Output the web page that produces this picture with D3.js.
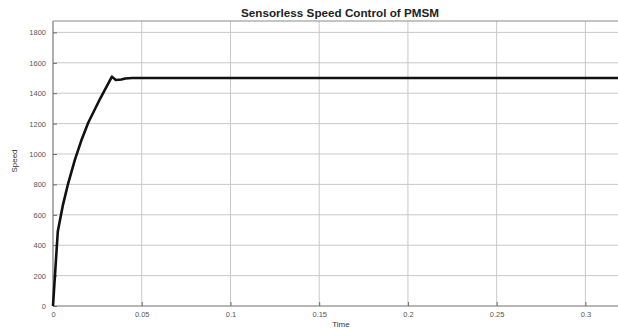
<!DOCTYPE html>
<html>
<head>
<meta charset="utf-8">
<script src="https://cdn.jsdelivr.net/npm/d3@7"></script>
<style>
  html, body { margin: 0; padding: 0; background: #fff; }
  svg { display: block; }
</style>
</head>
<body>
<script>
// speed response
const time = [0, 0.0027, 0.0055, 0.0086, 0.0124, 0.0160, 0.0199, 0.0266, 0.0332, 0.0354, 0.0385, 0.0407, 0.0447, 0.32];
const speed = [0, 490, 660, 809, 965, 1090, 1207, 1365, 1509, 1487, 1490, 1497, 1500, 1500];

const xTicks = [0, 0.05, 0.1, 0.15, 0.2, 0.25, 0.3];
const xTickLabels = ["0", "0.05", "0.1", "0.15", "0.2", "0.25", "0.3"];
const yTicks = [0, 200, 400, 600, 800, 1000, 1200, 1400, 1600, 1800];

const width = 618, height = 329;
const margin = { left: 53, top: 21, right: -2, bottom: 23 };

const svg = d3.select("body").append("svg")
  .attr("width", width)
  .attr("height", height);

const x = d3.scaleLinear().domain([0, 0.3195]).range([margin.left, width - margin.right]);
const y = d3.scaleLinear().domain([0, 1875]).range([height - margin.bottom, margin.top]);

// grid
svg.append("g").selectAll("line").data(xTicks).enter().append("line")
  .attr("x1", d => x(d)).attr("x2", d => x(d))
  .attr("y1", y(0)).attr("y2", margin.top)
  .attr("stroke", "#c8c8c8").attr("stroke-width", 1);

svg.append("g").selectAll("line").data(yTicks).enter().append("line")
  .attr("x1", margin.left).attr("x2", width)
  .attr("y1", d => y(d)).attr("y2", d => y(d))
  .attr("stroke", "#c8c8c8").attr("stroke-width", 1);

// box
svg.append("line").attr("x1", margin.left).attr("x2", width)
  .attr("y1", margin.top).attr("y2", margin.top)
  .attr("stroke", "#8a8a8a").attr("stroke-width", 1.2);
svg.append("line").attr("x1", margin.left).attr("x2", width)
  .attr("y1", y(0)).attr("y2", y(0))
  .attr("stroke", "#8a8a8a").attr("stroke-width", 1.2);
svg.append("line").attr("x1", margin.left).attr("x2", margin.left)
  .attr("y1", margin.top).attr("y2", y(0))
  .attr("stroke", "#8a8a8a").attr("stroke-width", 1.2);

// axes
const xAxis = d3.axisBottom(x).tickValues(xTicks)
  .tickFormat((d, i) => xTickLabels[i]).tickSizeInner(-4).tickSizeOuter(0).tickPadding(6);
const gx = svg.append("g").attr("transform", `translate(0,${y(0)})`).call(xAxis);
gx.select(".domain").remove();

const yAxis = d3.axisLeft(y).tickValues(yTicks).tickFormat(d3.format("d"))
  .tickSizeInner(-4).tickSizeOuter(0).tickPadding(7);
const gy = svg.append("g").attr("transform", `translate(${margin.left},0)`).call(yAxis);
gy.select(".domain").remove();

svg.selectAll(".tick line").attr("stroke", "#6a6a6a");
svg.selectAll(".tick text")
  .attr("fill", "#555")
  .attr("font-family", "Liberation Sans, Arial, sans-serif")
  .attr("font-size", "7.5px");

// data
const line = d3.line().x((d, i) => x(time[i])).y(d => y(d));
svg.append("path")
  .datum(speed)
  .attr("d", line)
  .attr("fill", "none")
  .attr("stroke", "#111")
  .attr("stroke-width", 2.6)
  .attr("stroke-linejoin", "round");

// labels
svg.append("text")
  .attr("x", 340).attr("y", 17)
  .attr("text-anchor", "middle")
  .attr("font-family", "Liberation Sans, Arial, sans-serif")
  .attr("font-weight", "bold")
  .attr("font-size", "10px")
  .attr("textLength", 198)
  .attr("lengthAdjust", "spacingAndGlyphs")
  .attr("fill", "#222")
  .text("Sensorless Speed Control of PMSM");

svg.append("text")
  .attr("x", 341).attr("y", 327)
  .attr("text-anchor", "middle")
  .attr("font-family", "Liberation Sans, Arial, sans-serif")
  .attr("font-size", "8px")
  .attr("fill", "#333")
  .text("Time");

svg.append("text")
  .attr("transform", "translate(17,161) rotate(-90)")
  .attr("text-anchor", "middle")
  .attr("font-family", "Liberation Sans, Arial, sans-serif")
  .attr("font-size", "8px")
  .attr("fill", "#333")
  .text("Speed");
</script>
</body>
</html>
